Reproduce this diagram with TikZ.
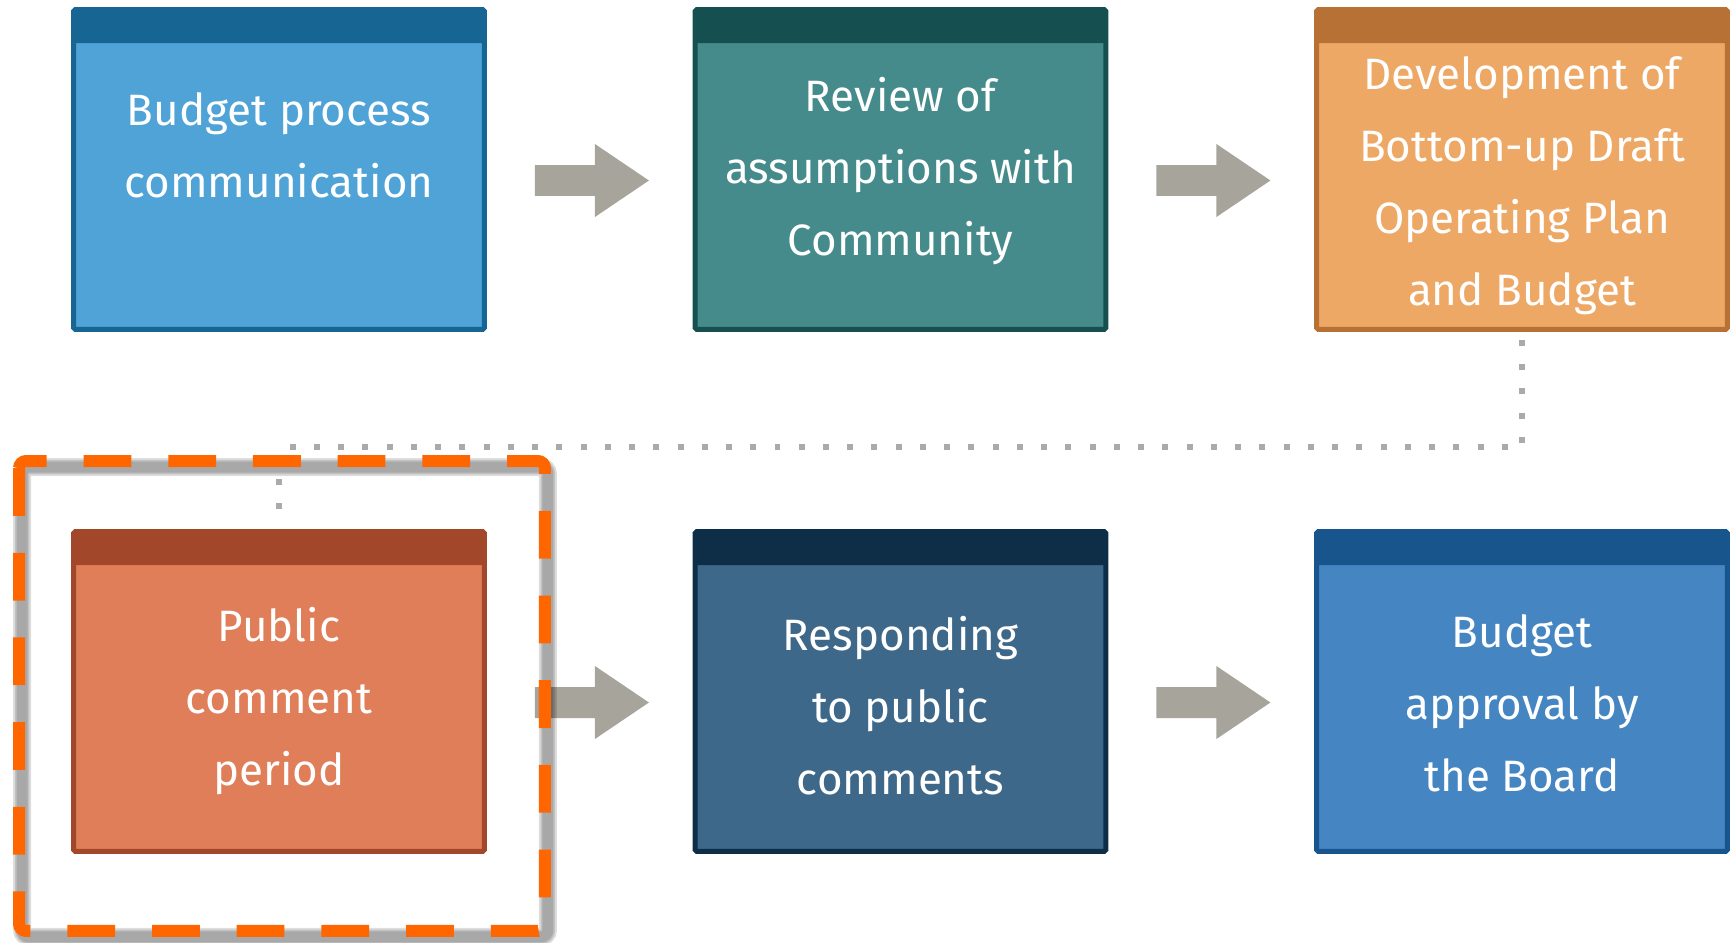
\documentclass[tikz,border=0pt]{standalone}
\usepackage{fontspec}
\setmainfont{Fira Sans}
\usetikzlibrary{calc}

\definecolor{commfill}{HTML}{4FA3D7}
\definecolor{commhdr}{HTML}{176592}
\definecolor{revfill}{HTML}{468B8C}
\definecolor{revhdr}{HTML}{164F50}
\definecolor{devfill}{HTML}{EDA865}
\definecolor{devhdr}{HTML}{B87134}
\definecolor{pubfill}{HTML}{E07E5A}
\definecolor{pubhdr}{HTML}{A3472B}
\definecolor{respfill}{HTML}{3E6889}
\definecolor{resphdr}{HTML}{0E2E48}
\definecolor{apprfill}{HTML}{4485C2}
\definecolor{apprhdr}{HTML}{17558C}
\definecolor{flowgrey}{HTML}{A7A49C}
\definecolor{dotgrey}{HTML}{AAAAAA}
\definecolor{hilite}{HTML}{FF6600}

\tikzset{
  stepbox/.style 2 args={draw=#2, fill=#1, line width=0.1cm, rounded corners=1pt,
    minimum width=8.22cm, minimum height=6.4cm, inner sep=0pt,
    path picture={\fill[#2] (path picture bounding box.north west) rectangle
      ([yshift=-0.67cm]path picture bounding box.north east);}},
  boxtext/.style={text=white, align=center, font=\fontsize{25}{41}\selectfont},
  flow/.style={fill=flowgrey},
  dotline/.style={draw=dotgrey, line width=3.4pt, dash pattern=on 3.4pt off 10.4pt},
  frameshadow/.style={draw=black, opacity=0.13, rounded corners=4pt},
}

\begin{document}
\begin{tikzpicture}[x=0.02cm,y=-0.02cm]
  \useasboundingbox (0,0) rectangle (1735,943);

  % top row
  \node[stepbox={commfill}{commhdr}] (b1) at (279,169.5) {};
  \node[stepbox={revfill}{revhdr}] (b2) at (900.5,169.5) {};
  \node[stepbox={devfill}{devhdr}] (b3) at (1522,169.5) {};
  % bottom row
  \node[stepbox={pubfill}{pubhdr}] (b4) at (279,691.5) {};
  \node[stepbox={respfill}{resphdr}] (b5) at (900.5,691.5) {};
  \node[stepbox={apprfill}{apprhdr}] (b6) at (1522,691.5) {};

  \node[boxtext] (t1) at ([yshift=0.44cm]b1.center) {Budget process\strut\\communication\strut};
  \node[boxtext] (t2) at (b2.center) {Review of\strut\\assumptions with\strut\\Community\strut};
  \node[boxtext] (t3) at ([yshift=-0.27cm]b3.center) {Development of\strut\\Bottom-up Draft\strut\\Operating Plan\strut\\and Budget\strut};
  \node[boxtext] (t4) at ([yshift=-0.15cm]b4.center) {Public\strut\\comment\strut\\period\strut};
  \node[boxtext] (t5) at ([yshift=-0.33cm]b5.center) {Responding\strut\\to public\strut\\comments\strut};
  \node[boxtext] (t6) at ([yshift=-0.27cm]b6.center) {Budget\strut\\approval by\strut\\the Board\strut};

  % block arrows
  \foreach \a/\b in {b1/b2,b2/b3,b4/b5,b5/b6}
    \fill[flow] ([xshift=0.96cm,yshift=0.09cm]\a.east) -- ++(1.2cm,0) -- ++(0,0.42cm)
      -- ++(1.08cm,-0.73cm) -- ++(-1.08cm,-0.73cm) -- ++(0,0.42cm) -- ++(-1.2cm,0) -- cycle;

  % dotted link
  \draw[dotline] ([yshift=-0.16cm]b3.south) |- ([yshift=1.64cm]b4.north) -- ([yshift=0.3cm]b4.north);

  % highlight frame, soft shadow first
  \foreach \w in {0.36cm,0.29cm,0.22cm}
    \draw[frameshadow, line width=\w]
      ([shift={(-49,-62)}]b4.north west) rectangle ([shift={(61,83)}]b4.south east);
  \draw[hilite, line width=0.24cm, rounded corners=4pt, dash pattern=on 27.2pt off 21pt]
    ([shift={(-52,-68)}]b4.north west) rectangle ([shift={(58,77)}]b4.south east);
\end{tikzpicture}
\end{document}
